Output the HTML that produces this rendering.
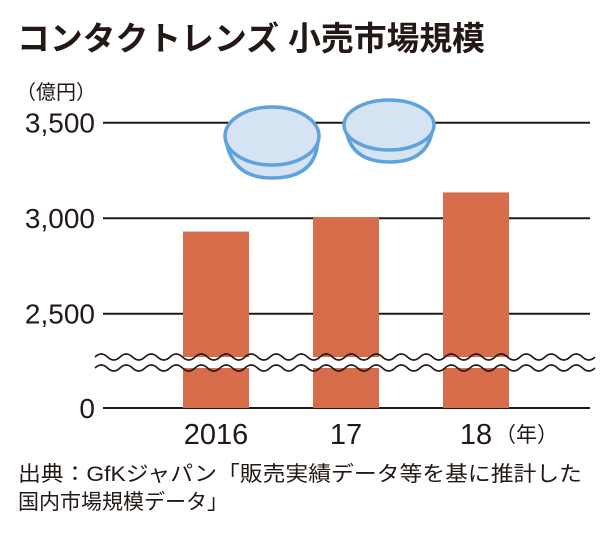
<!DOCTYPE html>
<html><head><meta charset="utf-8"><style>
html,body{margin:0;padding:0;background:#fff;}
svg{display:block;font-family:"Liberation Sans","Noto Sans CJK JP",sans-serif;}
</style></head><body>
<svg id="c" width="600" height="534" viewBox="0 0 600 534">
<text x="17" y="50" font-size="33" font-weight="bold" fill="#231815" textLength="468" lengthAdjust="spacingAndGlyphs">コンタクトレンズ 小売市場規模</text>
<text x="16" y="99" font-size="20" fill="#231815">（億円）</text>
<g id="grid"></g>
<g id="lenses">
 <path d="M226,140 Q232,178 272,178 Q316,178 318,140" fill="#d6e3f3" stroke="#5fa3dc" stroke-width="3.5"/>
 <ellipse cx="272" cy="136" rx="47" ry="29" fill="#d6e3f3" stroke="#5fa3dc" stroke-width="3.5"/>
 <path d="M346,128 Q350,162 390,162 Q430,162 433,125" fill="#d6e3f3" stroke="#5fa3dc" stroke-width="3.5"/>
 <ellipse cx="389" cy="125" rx="45" ry="25" fill="#d6e3f3" stroke="#5fa3dc" stroke-width="3.5"/>
</g>
<g id="bars"></g>
<g id="brk"></g>
<g id="xl"></g>
<text x="18" y="481" font-size="21" fill="#231815" textLength="564" lengthAdjust="spacingAndGlyphs">出典：GfKジャパン「販売実績データ等を基に推計した</text>
<text x="18" y="509" font-size="21" fill="#231815">国内市場規模データ」</text>
</svg>
<script>
const categories = ["2016","17","18"];
const values = [2930, 3005, 3135];
const tickValues = [3500, 3000, 2500];
const tickLabels = ["3,500","3,000","2,500"];
const ns="http://www.w3.org/2000/svg";
function mk(t,a,p){const e=document.createElementNS(ns,t);for(const k in a)e.setAttribute(k,a[k]);p.appendChild(e);return e;}
function y(v){return 408-(v-2000)/500*95 - 0;}
// broken axis: 2500 at 313.7, 3500 at 122.7
function yv(v){return 313.7-(v-2500)*95.5/500;}
const centers=[216,346,476];
function xc(i){return centers[0]+i*130;}
const grid=document.getElementById('grid');
tickValues.forEach((v,i)=>{
 const l=mk('line',{x1:103,x2:590,y1:yv(v),y2:yv(v),stroke:'#231815','stroke-width':2},grid);
 
 
 const t=mk('text',{x:95,y:yv(v)+10,'font-size':28,'text-anchor':'end',fill:'#231815'},grid);
 t.textContent=tickLabels[i];
 
 
});
const z=mk('line',{x1:103,x2:590,y1:408,y2:408,stroke:'#231815','stroke-width':2},grid);


const zt=mk('text',{x:95,y:418,'font-size':28,'text-anchor':'end',fill:'#231815'},grid);
zt.textContent='0';


const bars=document.getElementById('bars');
values.forEach((v,i)=>{
 const top=yv(v);
 const r=mk('rect',{x:xc(i)-33,y:top,width:66,height:408-top,fill:'#d76c4a'},bars);
 
 
 const t=mk('text',{x:xc(i),y:444,'font-size':29,'text-anchor':'middle',fill:'#231815'},document.getElementById('xl'));
 t.textContent=categories[i];
 
 
});
const yt=mk('text',{x:495,y:442,'font-size':21,fill:'#231815'},document.getElementById('xl'));
yt.textContent='（年）';


// axis break
const brk=document.getElementById('brk');
function wave(y0){let d='M95,'+y0;for(let x=95;x<592;x+=12.5){d+=' q6.25,'+(((x-95)/12.5)%2?6:-6)+' 12.5,0';}return d;}
const band=mk('rect',{x:95,y:357,width:500,height:11,fill:'#fff'},brk);


[357,368].forEach(y0=>{
 const p=mk('path',{d:wave(y0),fill:'none',stroke:'#231815','stroke-width':1.6},brk);
 
 
});
</script>
</body></html>
